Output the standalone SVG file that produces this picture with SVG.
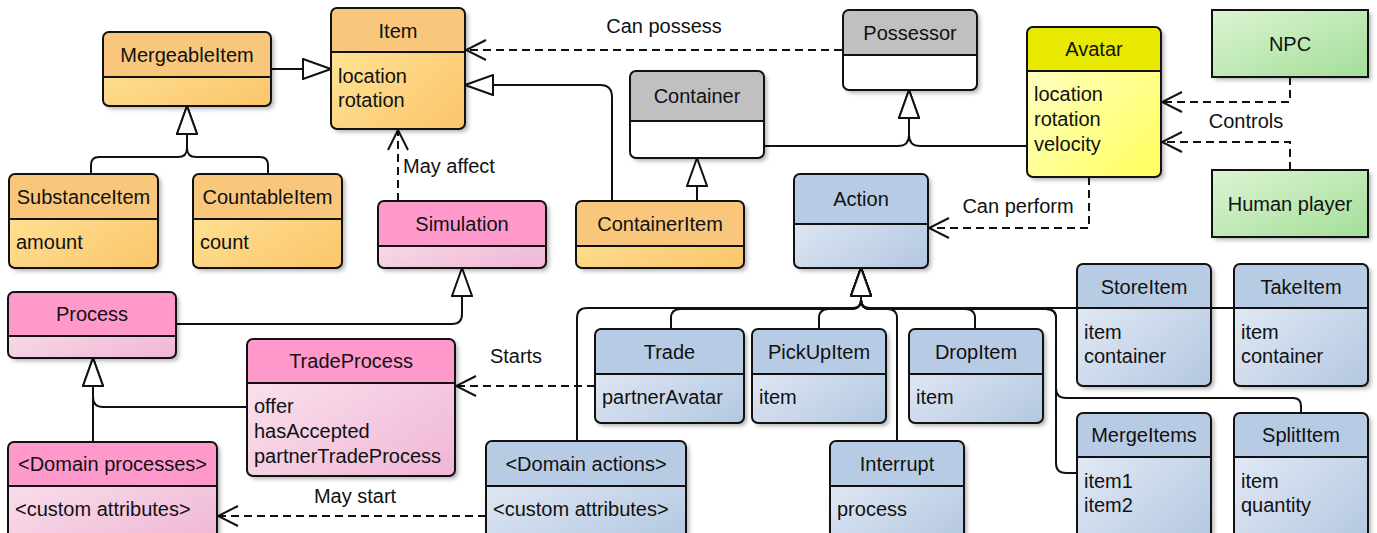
<svg xmlns="http://www.w3.org/2000/svg" width="1377" height="533" viewBox="0 0 1377 533">
<defs>
<style>
text{font-family:"Liberation Sans",Arial,sans-serif;font-size:20px;fill:#111}
.tc{text-anchor:middle}
.ln{fill:none;stroke:#111;stroke-width:2}
.dash{stroke-dasharray:8 5}
.ol{fill:none;stroke:#111;stroke-width:2}
.sep{stroke:#111;stroke-width:2}
.bg{filter:url(#sh)}
.ob{fill:url(#gOr)}.oh{fill:#F8C77C}
.pb{fill:url(#gPk)}.ph{fill:#FF99CC}
.bb{fill:url(#gBl)}.bh{fill:#B8CBE4}
.gb{fill:#fff}.gh{fill:#C0C0C0}
.ab{fill:url(#gAv)}.ah{fill:#E8E800}
.grn{fill:url(#gGr)}
</style>
<filter id="sh" x="-10%" y="-10%" width="130%" height="130%">
<feDropShadow dx="3" dy="3" stdDeviation="2" flood-color="#000" flood-opacity="0.3"/>
</filter>
<linearGradient id="gOr" x1="0" y1="0" x2="1" y2="1"><stop offset="0" stop-color="#FFE99E"/><stop offset="1" stop-color="#FBC46A"/></linearGradient>
<linearGradient id="gPk" x1="0" y1="0" x2="1" y2="1"><stop offset="0" stop-color="#FBE8F1"/><stop offset="1" stop-color="#F0B6D5"/></linearGradient>
<linearGradient id="gBl" x1="0" y1="0" x2="1" y2="1"><stop offset="0" stop-color="#EBF0F8"/><stop offset="1" stop-color="#B3C7E1"/></linearGradient>
<linearGradient id="gAv" x1="0" y1="0" x2="1" y2="1"><stop offset="0" stop-color="#FFFFD2"/><stop offset="1" stop-color="#FFFF5C"/></linearGradient>
<linearGradient id="gGr" x1="0" y1="0" x2="1" y2="1"><stop offset="0" stop-color="#DCF4D3"/><stop offset="1" stop-color="#A4DE99"/></linearGradient>
<marker id="tri" viewBox="0 0 30 22" refX="29" refY="11" markerWidth="30" markerHeight="22" markerUnits="userSpaceOnUse" orient="auto">
<path d="M1,1 L29,11 L1,21 Z" fill="#fff" stroke="#111" stroke-width="2" stroke-dasharray="none"/>
</marker>
<marker id="open" viewBox="0 0 24 24" refX="22" refY="12" markerWidth="24" markerHeight="24" markerUnits="userSpaceOnUse" orient="auto">
<path d="M2,2 L22,12 L2,22" fill="none" stroke="#111" stroke-width="2" stroke-dasharray="none"/>
</marker>
</defs>
<rect width="1377" height="533" fill="#fff"/>

<g id="connectors">
<path class="ln" d="M271,69 H331" marker-end="url(#tri)"/>
<path class="ln" d="M91,174 V165 Q91,157 99,157 H178 Q187,157 187,148 V106" marker-end="url(#tri)"/>
<path class="ln" d="M268,174 V165 Q268,157 260,157 H196 Q187,157 187,148 V106" marker-end="url(#tri)"/>
<path class="ln dash" d="M398,201 V130" marker-end="url(#open)"/>
<text x="403" y="173">May affect</text>
<path class="ln" d="M612,201 V97 Q612,85 600,85 H465" marker-end="url(#tri)"/>
<path class="ln" d="M697,201 V158" marker-end="url(#tri)"/>
<path class="ln" d="M764,146 H898 Q909,146 909,135 V90" marker-end="url(#tri)"/>
<path class="ln" d="M1027,146 H920 Q909,146 909,135 V90" marker-end="url(#tri)"/>
<path class="ln dash" d="M842,50 H466" marker-end="url(#open)"/>
<text class="tc" x="664" y="33">Can possess</text>
<path class="ln dash" d="M1290,77 V102 H1162" marker-end="url(#open)"/>
<path class="ln dash" d="M1290,170 V142 H1162" marker-end="url(#open)"/>
<text class="tc" x="1246" y="128">Controls</text>
<path class="ln dash" d="M1089,177 V228 H929" marker-end="url(#open)"/>
<text class="tc" x="1018" y="213">Can perform</text>
<path class="ln" d="M577,441 V318 Q577,308 587,308 H853 Q861,308 861,300 V268" marker-end="url(#tri)"/>
<path class="ln" d="M671,329 V318 Q671,309 681,309 H853 Q861,308 861,300 V268" marker-end="url(#tri)"/>
<path class="ln" d="M819,329 V318 Q819,309 829,309 H853 Q861,308 861,300 V268" marker-end="url(#tri)"/>
<path class="ln" d="M897,441 V318 Q897,309 887,309 H869 Q861,308 861,300 V268" marker-end="url(#tri)"/>
<path class="ln" d="M975,329 V318 Q975,309 965,309 H869 Q861,308 861,300 V268" marker-end="url(#tri)"/>
<path class="ln" d="M1077,308 H869 Q861,308 861,300 V268" marker-end="url(#tri)"/>
<path class="ln" d="M1234,308 H869 Q861,308 861,300 V268" marker-end="url(#tri)"/>
<path class="ln" d="M1077,473 H1066 Q1056,473 1056,463 V318 Q1056,309 1046,309 H869 Q861,308 861,300 V268" marker-end="url(#tri)"/>
<path class="ln" d="M1301,413 V406 Q1301,398 1293,398 H1066 Q1056,398 1056,388 V318 Q1056,309 1046,309 H869 Q861,308 861,300 V268" marker-end="url(#tri)"/>
<path class="ln" d="M176,324 H452 Q462,324 462,314 V268" marker-end="url(#tri)"/>
<path class="ln" d="M247,407 H103 Q93,407 93,397 V358" marker-end="url(#tri)"/>
<path class="ln" d="M93,442 V358" marker-end="url(#tri)"/>
<path class="ln dash" d="M595,386 H456" marker-end="url(#open)"/>
<text class="tc" x="516" y="363">Starts</text>
<path class="ln dash" d="M486,516 H218" marker-end="url(#open)"/>
<text class="tc" x="355" y="503">May start</text>
</g>

<g id="n-mergeableitem">
<rect class="bg ob" x="103" y="32" width="168" height="74" rx="6"/>
<path class="oh" d="M103,77 V38 Q103,32 109,32 H265 Q271,32 271,38 V77 Z"/>
<line class="sep" x1="103" y1="77" x2="271" y2="77"/>
<rect class="ol" x="103" y="32" width="168" height="74" rx="6"/>
<text class="tc" x="187" y="62">MergeableItem</text>
</g>
<g id="n-item">
<rect class="bg ob" x="331" y="8" width="134" height="121" rx="6"/>
<path class="oh" d="M331,52 V14 Q331,8 337,8 H459 Q465,8 465,14 V52 Z"/>
<line class="sep" x1="331" y1="52" x2="465" y2="52"/>
<rect class="ol" x="331" y="8" width="134" height="121" rx="6"/>
<text class="tc" x="398" y="38">Item</text>
<text x="338" y="83">location</text>
<text x="338" y="107">rotation</text>
</g>
<g id="n-substanceitem">
<rect class="bg ob" x="9" y="174" width="149" height="94" rx="6"/>
<path class="oh" d="M9,219 V180 Q9,174 15,174 H152 Q158,174 158,180 V219 Z"/>
<line class="sep" x1="9" y1="219" x2="158" y2="219"/>
<rect class="ol" x="9" y="174" width="149" height="94" rx="6"/>
<text class="tc" x="83.5" y="204">SubstanceItem</text>
<text x="16" y="249">amount</text>
</g>
<g id="n-countableitem">
<rect class="bg ob" x="193" y="174" width="149" height="94" rx="6"/>
<path class="oh" d="M193,219 V180 Q193,174 199,174 H336 Q342,174 342,180 V219 Z"/>
<line class="sep" x1="193" y1="219" x2="342" y2="219"/>
<rect class="ol" x="193" y="174" width="149" height="94" rx="6"/>
<text class="tc" x="267.5" y="204">CountableItem</text>
<text x="200" y="249">count</text>
</g>
<g id="n-simulation">
<rect class="bg pb" x="378" y="201" width="168" height="67" rx="6"/>
<path class="ph" d="M378,246 V207 Q378,201 384,201 H540 Q546,201 546,207 V246 Z"/>
<line class="sep" x1="378" y1="246" x2="546" y2="246"/>
<rect class="ol" x="378" y="201" width="168" height="67" rx="6"/>
<text class="tc" x="462" y="231">Simulation</text>
</g>
<g id="n-containeritem">
<rect class="bg ob" x="576" y="201" width="168" height="67" rx="6"/>
<path class="oh" d="M576,246 V207 Q576,201 582,201 H738 Q744,201 744,207 V246 Z"/>
<line class="sep" x1="576" y1="246" x2="744" y2="246"/>
<rect class="ol" x="576" y="201" width="168" height="67" rx="6"/>
<text class="tc" x="660" y="231">ContainerItem</text>
</g>
<g id="n-container">
<rect class="bg gb" x="630" y="71" width="134" height="87" rx="6"/>
<path class="gh" d="M630,121 V77 Q630,71 636,71 H758 Q764,71 764,77 V121 Z"/>
<line class="sep" x1="630" y1="121" x2="764" y2="121"/>
<rect class="ol" x="630" y="71" width="134" height="87" rx="6"/>
<text class="tc" x="697" y="103">Container</text>
</g>
<g id="n-possessor">
<rect class="bg gb" x="843" y="10" width="134" height="80" rx="6"/>
<path class="gh" d="M843,55 V16 Q843,10 849,10 H971 Q977,10 977,16 V55 Z"/>
<line class="sep" x1="843" y1="55" x2="977" y2="55"/>
<rect class="ol" x="843" y="10" width="134" height="80" rx="6"/>
<text class="tc" x="910" y="40">Possessor</text>
</g>
<g id="n-avatar">
<rect class="bg ab" x="1027" y="27" width="134" height="150" rx="6"/>
<path class="ah" d="M1027,71 V33 Q1027,27 1033,27 H1155 Q1161,27 1161,33 V71 Z"/>
<line class="sep" x1="1027" y1="71" x2="1161" y2="71"/>
<rect class="ol" x="1027" y="27" width="134" height="150" rx="6"/>
<text class="tc" x="1094" y="56">Avatar</text>
<text x="1034" y="101">location</text>
<text x="1034" y="126">rotation</text>
<text x="1034" y="151">velocity</text>
</g>
<g id="n-npc">
<rect class="bg grn" x="1212" y="10" width="156" height="67"/>
<rect class="ol" x="1212" y="10" width="156" height="67"/>
<text class="tc" x="1290" y="51">NPC</text>
</g>
<g id="n-humanplayer">
<rect class="bg grn" x="1212" y="170" width="156" height="67"/>
<rect class="ol" x="1212" y="170" width="156" height="67"/>
<text class="tc" x="1290" y="211">Human player</text>
</g>
<g id="n-action">
<rect class="bg bb" x="794" y="174" width="134" height="94" rx="6"/>
<path class="bh" d="M794,224 V180 Q794,174 800,174 H922 Q928,174 928,180 V224 Z"/>
<line class="sep" x1="794" y1="224" x2="928" y2="224"/>
<rect class="ol" x="794" y="174" width="134" height="94" rx="6"/>
<text class="tc" x="861" y="206">Action</text>
</g>
<g id="n-process">
<rect class="bg pb" x="8" y="292" width="168" height="66" rx="6"/>
<path class="ph" d="M8,336 V298 Q8,292 14,292 H170 Q176,292 176,298 V336 Z"/>
<line class="sep" x1="8" y1="336" x2="176" y2="336"/>
<rect class="ol" x="8" y="292" width="168" height="66" rx="6"/>
<text class="tc" x="92" y="321">Process</text>
</g>
<g id="n-tradeprocess">
<rect class="bg pb" x="247" y="339" width="208" height="137" rx="6"/>
<path class="ph" d="M247,383 V345 Q247,339 253,339 H449 Q455,339 455,345 V383 Z"/>
<line class="sep" x1="247" y1="383" x2="455" y2="383"/>
<rect class="ol" x="247" y="339" width="208" height="137" rx="6"/>
<text class="tc" x="351" y="368">TradeProcess</text>
<text x="254" y="413">offer</text>
<text x="254" y="438">hasAccepted</text>
<text x="254" y="463">partnerTradeProcess</text>
</g>
<g id="n-domainprocesses">
<rect class="bg pb" x="8" y="442" width="209" height="100" rx="6"/>
<path class="ph" d="M8,486 V448 Q8,442 14,442 H211 Q217,442 217,448 V486 Z"/>
<line class="sep" x1="8" y1="486" x2="217" y2="486"/>
<rect class="ol" x="8" y="442" width="209" height="100" rx="6"/>
<text class="tc" x="112.5" y="471">&lt;Domain processes&gt;</text>
<text x="15" y="516">&lt;custom attributes&gt;</text>
</g>
<g id="n-trade">
<rect class="bg bb" x="595" y="329" width="149" height="94" rx="6"/>
<path class="bh" d="M595,374 V335 Q595,329 601,329 H738 Q744,329 744,335 V374 Z"/>
<line class="sep" x1="595" y1="374" x2="744" y2="374"/>
<rect class="ol" x="595" y="329" width="149" height="94" rx="6"/>
<text class="tc" x="669.5" y="359">Trade</text>
<text x="602" y="404">partnerAvatar</text>
</g>
<g id="n-pickupitem">
<rect class="bg bb" x="752" y="329" width="134" height="94" rx="6"/>
<path class="bh" d="M752,374 V335 Q752,329 758,329 H880 Q886,329 886,335 V374 Z"/>
<line class="sep" x1="752" y1="374" x2="886" y2="374"/>
<rect class="ol" x="752" y="329" width="134" height="94" rx="6"/>
<text class="tc" x="819" y="359">PickUpItem</text>
<text x="759" y="404">item</text>
</g>
<g id="n-dropitem">
<rect class="bg bb" x="909" y="329" width="134" height="94" rx="6"/>
<path class="bh" d="M909,374 V335 Q909,329 915,329 H1037 Q1043,329 1043,335 V374 Z"/>
<line class="sep" x1="909" y1="374" x2="1043" y2="374"/>
<rect class="ol" x="909" y="329" width="134" height="94" rx="6"/>
<text class="tc" x="976" y="359">DropItem</text>
<text x="916" y="404">item</text>
</g>
<g id="n-storeitem">
<rect class="bg bb" x="1077" y="264" width="134" height="122" rx="6"/>
<path class="bh" d="M1077,308 V270 Q1077,264 1083,264 H1205 Q1211,264 1211,270 V308 Z"/>
<line class="sep" x1="1077" y1="308" x2="1211" y2="308"/>
<rect class="ol" x="1077" y="264" width="134" height="122" rx="6"/>
<text class="tc" x="1144" y="294">StoreItem</text>
<text x="1084" y="339">item</text>
<text x="1084" y="363">container</text>
</g>
<g id="n-takeitem">
<rect class="bg bb" x="1234" y="264" width="134" height="122" rx="6"/>
<path class="bh" d="M1234,308 V270 Q1234,264 1240,264 H1362 Q1368,264 1368,270 V308 Z"/>
<line class="sep" x1="1234" y1="308" x2="1368" y2="308"/>
<rect class="ol" x="1234" y="264" width="134" height="122" rx="6"/>
<text class="tc" x="1301" y="294">TakeItem</text>
<text x="1241" y="339">item</text>
<text x="1241" y="363">container</text>
</g>
<g id="n-domainactions">
<rect class="bg bb" x="486" y="441" width="200" height="100" rx="6"/>
<path class="bh" d="M486,486 V447 Q486,441 492,441 H680 Q686,441 686,447 V486 Z"/>
<line class="sep" x1="486" y1="486" x2="686" y2="486"/>
<rect class="ol" x="486" y="441" width="200" height="100" rx="6"/>
<text class="tc" x="586" y="471">&lt;Domain actions&gt;</text>
<text x="493" y="516">&lt;custom attributes&gt;</text>
</g>
<g id="n-interrupt">
<rect class="bg bb" x="830" y="441" width="134" height="100" rx="6"/>
<path class="bh" d="M830,486 V447 Q830,441 836,441 H958 Q964,441 964,447 V486 Z"/>
<line class="sep" x1="830" y1="486" x2="964" y2="486"/>
<rect class="ol" x="830" y="441" width="134" height="100" rx="6"/>
<text class="tc" x="897" y="471">Interrupt</text>
<text x="837" y="516">process</text>
</g>
<g id="n-mergeitems">
<rect class="bg bb" x="1077" y="413" width="134" height="130" rx="6"/>
<path class="bh" d="M1077,457 V419 Q1077,413 1083,413 H1205 Q1211,413 1211,419 V457 Z"/>
<line class="sep" x1="1077" y1="457" x2="1211" y2="457"/>
<rect class="ol" x="1077" y="413" width="134" height="130" rx="6"/>
<text class="tc" x="1144" y="442">MergeItems</text>
<text x="1084" y="488">item1</text>
<text x="1084" y="512">item2</text>
</g>
<g id="n-splititem">
<rect class="bg bb" x="1234" y="413" width="134" height="130" rx="6"/>
<path class="bh" d="M1234,457 V419 Q1234,413 1240,413 H1362 Q1368,413 1368,419 V457 Z"/>
<line class="sep" x1="1234" y1="457" x2="1368" y2="457"/>
<rect class="ol" x="1234" y="413" width="134" height="130" rx="6"/>
<text class="tc" x="1301" y="442">SplitItem</text>
<text x="1241" y="488">item</text>
<text x="1241" y="512">quantity</text>
</g>
</svg>
